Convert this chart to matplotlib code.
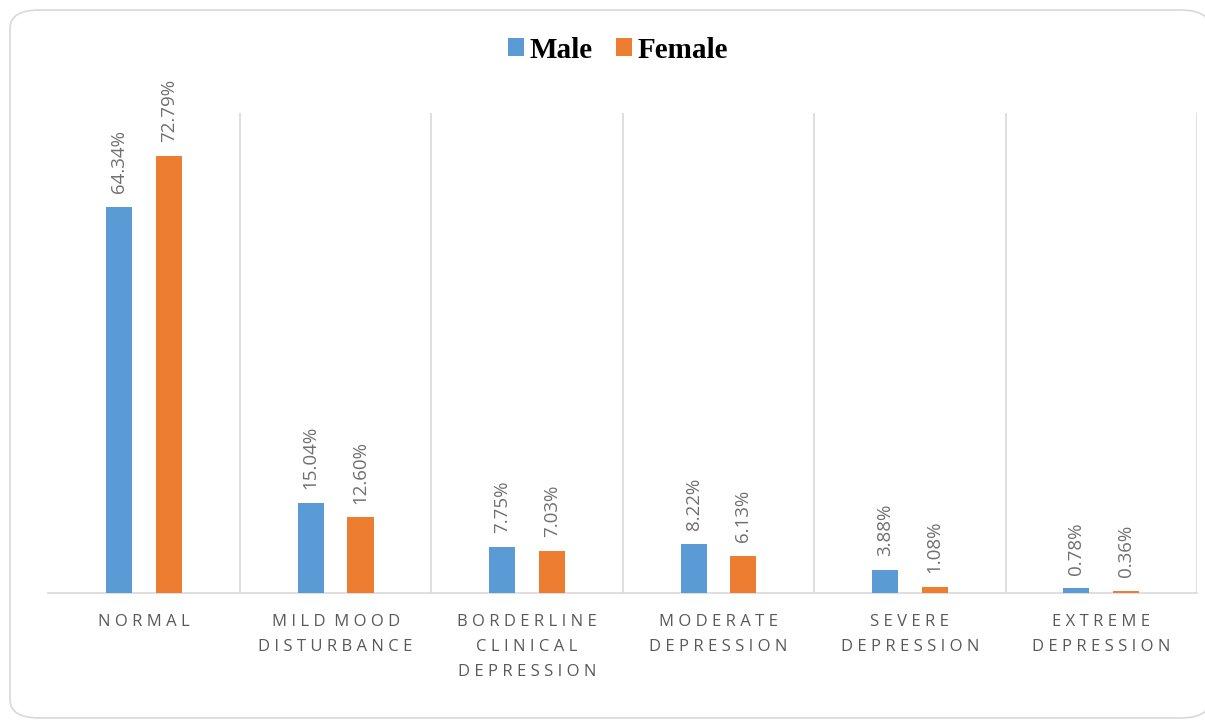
import matplotlib.pyplot as plt
import numpy as np
from matplotlib.patches import FancyBboxPatch

categories = [
    "NORMAL",
    "MILD MOOD\nDISTURBANCE",
    "BORDERLINE\nCLINICAL\nDEPRESSION",
    "MODERATE\nDEPRESSION",
    "SEVERE\nDEPRESSION",
    "EXTREME\nDEPRESSION",
]
male = [64.34, 15.04, 7.75, 8.22, 3.88, 0.78]
female = [72.79, 12.60, 7.03, 6.13, 1.08, 0.36]

BLUE = "#5b9bd5"
ORANGE = "#ed7d31"
GRID = "#d9d9d9"
TEXT = "#595959"


def spaced(label):
    # mimic the wide letter spacing of the original axis labels
    lines = []
    for line in label.split("\n"):
        words = [" ".join(w) for w in line.split(" ")]
        lines.append("  ".join(words))
    return "\n".join(lines)


fig = plt.figure(figsize=(12.05, 7.22), dpi=100)

frame = FancyBboxPatch(
    (10 / 1205, 4 / 722), 1200 / 1205, 708 / 722,
    boxstyle="round,pad=0,rounding_size=0.025",
    transform=fig.transFigure, facecolor="white",
    edgecolor="#d9d9d9", linewidth=1.2, zorder=-5,
)
fig.patches.append(frame)

ax = fig.add_axes([48.5 / 1205, 129 / 722, 1148.5 / 1205, 480 / 722])
ax.set_facecolor("none")

x = np.arange(len(categories))
w = 0.136
off = 0.13

bm = ax.bar(x - off, male, w, color=BLUE, label="Male", zorder=3)
bf = ax.bar(x + off, female, w, color=ORANGE, label="Female", zorder=3)

for bars, vals in ((bm, male), (bf, female)):
    for b, v in zip(bars, vals):
        ax.text(b.get_x() + b.get_width() / 2, v + 2.3, f"{v:.2f}%",
                rotation=90, ha="center", va="bottom", color="#6f6f6f",
                fontsize=13.5, family=["Open Sans", "DejaVu Sans"])

ax.set_xlim(-0.5, len(categories) - 0.5)
ax.set_ylim(0, 80)

for b in np.arange(-0.5, len(categories), 1.0):
    ax.axvline(b, color=GRID, linewidth=1.2, zorder=1)

for s in ("top", "left", "right"):
    ax.spines[s].set_visible(False)
ax.spines["bottom"].set_color(GRID)
ax.spines["bottom"].set_linewidth(1.2)

ax.set_yticks([])
ax.set_xticks(x)
ax.set_xticklabels([spaced(c) for c in categories], color=TEXT, fontsize=12,
                   linespacing=1.75, family=["Open Sans", "DejaVu Sans"])
ax.tick_params(axis="x", length=0, pad=15)

leg = fig.legend(
    handles=[bm, bf], loc="center", bbox_to_anchor=(618 / 1205, 1 - 50 / 722),
    ncol=2, frameon=False, handlelength=0.55, handleheight=0.55,
    handletextpad=0.2, columnspacing=0.8,
    prop={"family": "Liberation Serif", "weight": "bold", "size": 21},
)

fig.savefig("out.png", dpi=100)
